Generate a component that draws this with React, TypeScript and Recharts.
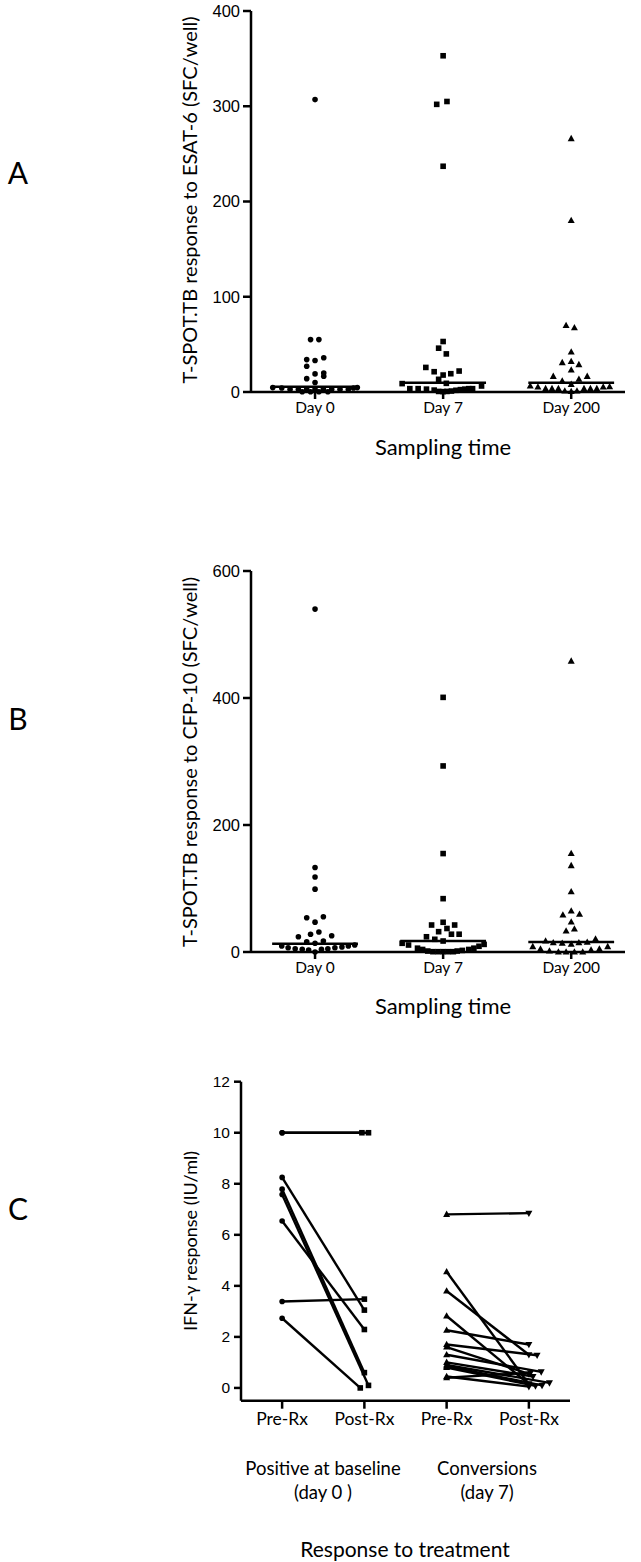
import React from 'react';
import { ScatterChart, Scatter, XAxis, YAxis, ReferenceLine } from 'recharts';

// ---- panel A / B categories ----
const sampleDays = ['Day 0', 'Day 7', 'Day 200'];

// ---- panel A: ESAT-6 (SFC/well) ----
const esatDay0 = [307, 55, 55, 34, 27, 33, 36, 14, 19, 20, 16.5, 10, 4.6, 4.2, 4.2, 4.6, 2.8, 2.8, 2.8, 2.8, 2.8, 2.8, 2.8, 2.8, 0.3, 0.3, 0.3, 0.3];
const esatDay0Spread = [0, -0.035, 0.03, -0.065, -0.065, 0, 0.068, -0.065, 0, 0.068, 0.068, 0, -0.33, -0.26, 0.3, 0.33, -0.195, -0.13, -0.065, 0, 0.065, 0.13, 0.195, 0.26, -0.1, -0.035, 0.03, 0.1];
const esatDay7 = [353, 302, 305, 237, 53, 46, 40, 25.8, 21.3, 17.8, 19.2, 22, 13.3, 9.1, 8.8, 3.5, 3.5, 3, 2, 0.6, 0.4, 0.6, 1, 1.8, 2.5, 3, 3.5, 3.5, 6.3];
const esatDay7Spread = [0, -0.05, 0.03, 0, 0, -0.035, 0.025, -0.135, -0.07, 0, 0.06, 0.125, -0.035, 0.025, -0.32, -0.26, -0.195, -0.13, -0.07, -0.035, 0, 0.03, 0.065, 0.1, 0.135, 0.17, 0.2, 0.23, 0.3];
const esatDay200 = [266, 180, 69.8, 67.4, 42, 30.8, 32, 28.7, 23, 16.4, 13.3, 16.4, 11.5, 8, 6.3, 5.2, 3.5, 3.5, 3.5, 1, 0.4, 1, 3.5, 3.5, 3.5, 5.2, 5.5];
const esatDay200Spread = [0, 0, -0.04, 0.025, 0, -0.07, 0, 0.06, 0, -0.14, 0.06, 0.125, -0.07, 0, -0.32, -0.26, -0.2, -0.15, -0.1, -0.05, 0, 0.045, 0.1, 0.15, 0.2, 0.25, 0.3];
const esatMedians = [5.5, 9.8, 9.8];

// ---- panel B: CFP-10 (SFC/well) ----
const cfpDay0 = [540, 133, 118, 99, 54, 47, 55.6, 24, 28, 31.5, 25.7, 16.2, 13.7, 17.3, 9.4, 6.8, 5.2, 4.2, 3.1, 0, 4.2, 5.2, 6.8, 7.9, 9.4, 11];
const cfpDay0Spread = [0, 0, 0, 0, -0.065, 0, 0.065, -0.13, -0.035, 0.03, 0.13, -0.065, 0, 0.065, -0.26, -0.21, -0.155, -0.1, -0.05, 0, 0.05, 0.1, 0.155, 0.21, 0.26, 0.31];
const cfpDay7 = [401, 293, 155, 84, 42.5, 46.8, 42.5, 32, 37, 24, 20, 28, 28, 17.3, 13.7, 11, 6, 4, 1.5, 0.5, 0.5, 0.5, 0.5, 0.5, 1.5, 2.5, 4, 6, 9, 12];
const cfpDay7Spread = [0, 0, 0, 0, -0.09, 0, 0.09, -0.035, 0.03, -0.13, -0.065, 0.065, 0.125, 0, -0.32, -0.27, -0.2, -0.16, -0.12, -0.08, -0.04, 0, 0.04, 0.08, 0.11, 0.15, 0.2, 0.24, 0.28, 0.32];
const cfpDay200 = [458, 155, 136, 95, 58.3, 64.6, 59.4, 47.2, 33, 36.2, 17.3, 14.6, 13.7, 12.1, 14.6, 15.2, 20.5, 8.4, 4.7, 1.6, 0, 0, 0, 0, 3.1, 4.7, 8.4];
const cfpDay200Spread = [0, 0, 0, 0, -0.065, 0, 0.065, 0, -0.04, 0.025, -0.2, -0.14, -0.07, 0, 0.06, 0.125, 0.19, -0.3, -0.24, -0.17, -0.1, -0.04, 0.025, 0.09, 0.155, 0.22, 0.285];
const cfpMedians = [13.1, 17.3, 15.7];

// ---- panel C: IFN-gamma (IU/ml) ----
const treatmentTicks = ['Pre-Rx', 'Post-Rx', 'Pre-Rx', 'Post-Rx'];
const baselinePre = [10, 10, 8.25, 7.79, 7.58, 6.54, 3.39, 2.73];
const baselinePost = [10, 10, 3.05, 0.6, 0.1, 2.29, 3.48, 0];
const baselinePostSpread = [-0.03, 0.05, 0, 0, 0.05, 0, 0, -0.05];
const conversionPre = [6.8, 4.55, 3.8, 2.82, 2.26, 1.7, 1.6, 1.3, 1.0, 0.9, 0.85, 0.8, 0.45, 0.4];
const conversionPost = [6.85, 0.15, 1.3, 0.15, 1.7, 1.28, 0.55, 0.63, 0.45, 0.2, 0.1, 0.08, 0.05, 0.6];
const conversionPostSpread = [0, 0, 0, 0, 0, 0.1, 0, 0.15, 0.05, 0.25, 0.16, 0.08, 0, 0.02];

const LABEL_FONT = 'Lato, "Open Sans", sans-serif';
const TICK_FONT = '"Liberation Sans", Arial, sans-serif';

const toPoints = (group: number, values: number[], spread: number[]) =>
  values.map((v, i) => ({ x: group + (spread[i] ?? 0), y: v }));

// marker shapes
const Dot = (p: any) => <circle cx={p.cx} cy={p.cy} r={2.8} fill="#000" />;
const Square = (p: any) => <rect x={p.cx - 2.8} y={p.cy - 2.8} width={5.6} height={5.6} fill="#000" />;
const TriUp = (p: any) => (
  <path d={`M${p.cx},${p.cy - 3.8} L${p.cx + 3.5},${p.cy + 2.5} L${p.cx - 3.5},${p.cy + 2.5} Z`} fill="#000" />
);
const TriDown = (p: any) => (
  <path d={`M${p.cx},${p.cy + 3.8} L${p.cx + 3.5},${p.cy - 2.5} L${p.cx - 3.5},${p.cy - 2.5} Z`} fill="#000" />
);
const NoMark = () => <g />;

const axisStroke = { stroke: '#000', strokeWidth: 2.5 };

const Txt = ({ x, y, size, children, rotate }: any) => (
  <div
    style={{
      position: 'absolute',
      left: x,
      top: y,
      transform: `translate(-50%, -50%)${rotate ? ' rotate(-90deg)' : ''}`,
      whiteSpace: 'nowrap',
      fontFamily: LABEL_FONT,
      fontSize: size,
      color: '#000',
      lineHeight: 1,
    }}
  >
    {children}
  </div>
);

interface DotPanelProps {
  top: number;
  yMax: number;
  yTicks: number[];
  groups: { values: number[]; spread: number[]; shape: any }[];
  medians: number[];
}

const DotPanel = ({ top, yMax, yTicks, groups, medians }: DotPanelProps) => (
  <div style={{ position: 'absolute', left: 0, top }}>
    <ScatterChart width={641} height={430} margin={{ top: 11, right: 16, bottom: 8, left: 191 }}>
      <XAxis
        type="number"
        dataKey="x"
        domain={[-0.5, 2.42]}
        ticks={[0, 1, 2]}
        interval={0}
        tickFormatter={(v: number) => sampleDays[v]}
        axisLine={axisStroke}
        tickLine={axisStroke}
        tickSize={7}
        tickMargin={3}
        height={30}
        tick={{ fill: '#000', fontSize: 15.5, fontFamily: LABEL_FONT }}
      />
      <YAxis
        type="number"
        dataKey="y"
        domain={[0, yMax]}
        ticks={yTicks}
        interval={0}
        width={60}
        axisLine={axisStroke}
        tickLine={axisStroke}
        tickSize={8}
        tickMargin={3}
        tick={{ fill: '#000', fontSize: 16.5, fontFamily: TICK_FONT }}
      />
      {medians.map((m, i) => (
        <ReferenceLine
          key={`m${i}`}
          segment={[{ x: i - 0.335, y: m }, { x: i + 0.335, y: m }]}
          stroke="#000"
          strokeWidth={2.5}
        />
      ))}
      {groups.map((g, i) => (
        <Scatter key={i} data={toPoints(i, g.values, g.spread)} shape={g.shape} isAnimationActive={false} />
      ))}
    </ScatterChart>
  </div>
);

export default function App() {
  const baselinePairs = baselinePre.map((pre, i) => [
    { x: 0, y: pre },
    { x: 1 + baselinePostSpread[i], y: baselinePost[i] },
  ]);
  const conversionPairs = conversionPre.map((pre, i) => [
    { x: 2, y: pre },
    { x: 3 + conversionPostSpread[i], y: conversionPost[i] },
  ]);

  return (
    <div style={{ position: 'absolute', left: 0, top: 0, width: 641, height: 1562, background: '#fff' }}>
      {/* Panel A */}
      <DotPanel
        top={0}
        yMax={400}
        yTicks={[0, 100, 200, 300, 400]}
        medians={esatMedians}
        groups={[
          { values: esatDay0, spread: esatDay0Spread, shape: Dot },
          { values: esatDay7, spread: esatDay7Spread, shape: Square },
          { values: esatDay200, spread: esatDay200Spread, shape: TriUp },
        ]}
      />
      <Txt x={18} y={172} size={30}>A</Txt>
      <Txt x={189} y={200} size={20}>
        <span style={{ display: 'inline-block', transform: 'rotate(-90deg)' }}>T-SPOT.TB response to ESAT-6 (SFC/well)</span>
      </Txt>
      <Txt x={443} y={447} size={22}>Sampling time</Txt>

      {/* Panel B */}
      <DotPanel
        top={560}
        yMax={600}
        yTicks={[0, 200, 400, 600]}
        medians={cfpMedians}
        groups={[
          { values: cfpDay0, spread: cfpDay0Spread, shape: Dot },
          { values: cfpDay7, spread: cfpDay7Spread, shape: Square },
          { values: cfpDay200, spread: cfpDay200Spread, shape: TriUp },
        ]}
      />
      <Txt x={18} y={718} size={30}>B</Txt>
      <Txt x={189} y={762} size={20}>
        <span style={{ display: 'inline-block', transform: 'rotate(-90deg)' }}>T-SPOT.TB response to CFP-10 (SFC/well)</span>
      </Txt>
      <Txt x={443} y={1006} size={22}>Sampling time</Txt>

      {/* Panel C */}
      <div style={{ position: 'absolute', left: 0, top: 1070 }}>
        <ScatterChart width={641} height={370} margin={{ top: 11.7, right: 71, bottom: 9.3, left: 191 }}>
          <XAxis
            type="number"
            dataKey="x"
            domain={[-0.5, 3.5]}
            ticks={[0, 1, 2, 3]}
            interval={0}
            tickFormatter={(v: number) => treatmentTicks[v]}
            axisLine={axisStroke}
            tickLine={axisStroke}
            tickSize={8}
            tickMargin={4}
            height={30}
            tick={{ fill: '#000', fontSize: 17.5, fontFamily: LABEL_FONT }}
          />
          <YAxis
            type="number"
            dataKey="y"
            domain={[-0.5, 12]}
            ticks={[0, 2, 4, 6, 8, 10, 12]}
            interval={0}
            width={50}
            axisLine={axisStroke}
            tickLine={axisStroke}
            tickSize={7}
            tickMargin={4}
            tick={{ fill: '#000', fontSize: 15.5, fontFamily: TICK_FONT }}
          />
          {baselinePairs.map((d, i) => (
            <Scatter key={`bl${i}`} data={d} line={{ stroke: '#000', strokeWidth: 2.4 }} shape={NoMark} isAnimationActive={false} />
          ))}
          {conversionPairs.map((d, i) => (
            <Scatter key={`cl${i}`} data={d} line={{ stroke: '#000', strokeWidth: 2.4 }} shape={NoMark} isAnimationActive={false} />
          ))}
          <Scatter data={toPoints(0, baselinePre, [])} shape={Dot} isAnimationActive={false} />
          <Scatter data={toPoints(1, baselinePost, baselinePostSpread)} shape={Square} isAnimationActive={false} />
          <Scatter data={toPoints(2, conversionPre, [])} shape={TriUp} isAnimationActive={false} />
          <Scatter data={toPoints(3, conversionPost, conversionPostSpread)} shape={TriDown} isAnimationActive={false} />
        </ScatterChart>
      </div>
      <Txt x={18} y={1208} size={30}>C</Txt>
      <Txt x={190} y={1241} size={18}>
        <span style={{ display: 'inline-block', transform: 'rotate(-90deg)' }}>IFN-γ response (IU/ml)</span>
      </Txt>
      <Txt x={323} y={1468} size={18.5}>Positive at baseline</Txt>
      <Txt x={323} y={1492} size={18.5}>(day 0 )</Txt>
      <Txt x={487} y={1468} size={18.5}>Conversions</Txt>
      <Txt x={487} y={1492} size={18.5}>(day 7)</Txt>
      <Txt x={405} y={1548} size={21}>Response to treatment</Txt>
    </div>
  );
}
